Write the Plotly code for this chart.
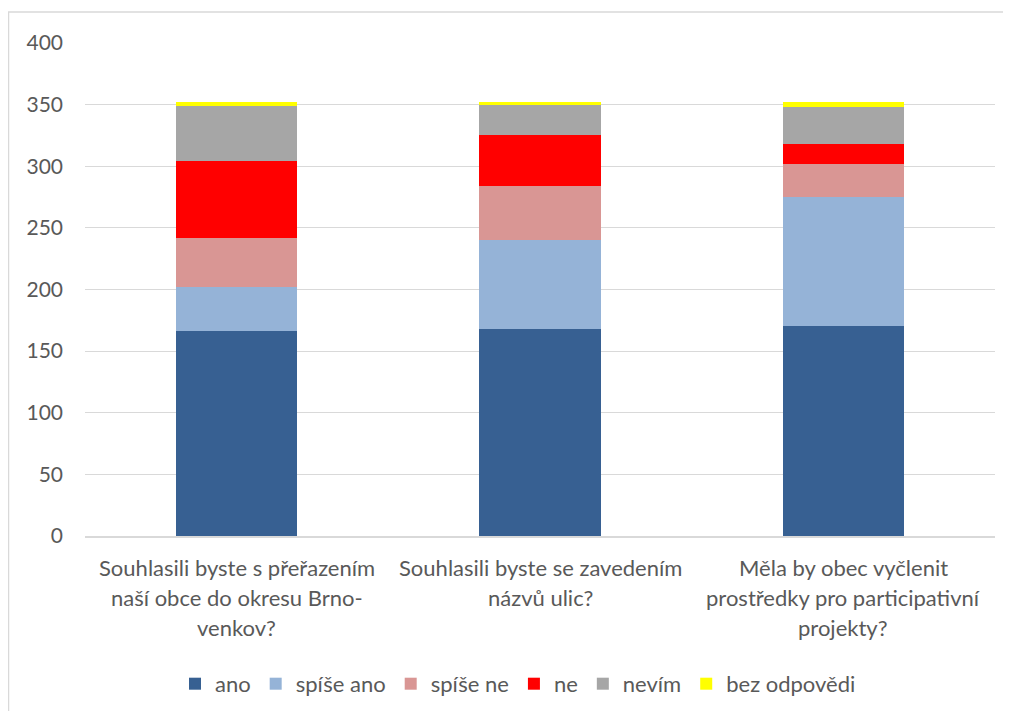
import plotly.graph_objects as go

categories = ["q1", "q2", "q3"]
category_lines = [
    ["Souhlasili byste s přeřazením", "naší obce do okresu Brno-", "venkov?"],
    ["Souhlasili byste se zavedením", "názvů ulic?"],
    ["Měla by obec vyčlenit", "prostředky pro participativní", "projekty?"],
]
series_names = ["ano", "spíše ano", "spíše ne", "ne", "nevím", "bez odpovědi"]
ano = [166, 168, 170]
spise_ano = [36, 72, 105]
spise_ne = [40, 44, 27]
ne = [62, 41, 16]
nevim = [45, 25, 30]
bez_odpovedi = [3, 2, 4]
series_values = [ano, spise_ano, spise_ne, ne, nevim, bez_odpovedi]
colors = ["#376092", "#95B3D7", "#D99694", "#FF0000", "#A6A6A6", "#FFFF00"]
y_ticks = [0, 50, 100, 150, 200, 250, 300, 350, 400]

FONT = "Lato"
TXT = "#595959"
L, R, T, B = 77, 24, 35, 183
PW, PH = 1011 - L - R, 711 - T - B

fig = go.Figure()
for name, vals, col in zip(series_names, series_values, colors):
    fig.add_trace(go.Bar(name=name, x=categories, y=vals, marker=dict(color=col, line=dict(width=0))))

annotations = []
for cat, lines in zip(categories, category_lines):
    for i, line in enumerate(lines):
        annotations.append(dict(
            x=cat, xref="x", y=0, yref="paper", yanchor="middle",
            yshift=-31 - 30 * i, text=line, showarrow=False,
            font=dict(family=FONT, size=22, color=TXT)))

fig.update_layout(
    width=1011, height=711,
    margin=dict(l=L, r=R, t=T, b=B),
    paper_bgcolor="white", plot_bgcolor="white",
    barmode="stack", bargap=0.6,
    font=dict(family=FONT, size=22, color=TXT),
    annotations=annotations,
    showlegend=True,
    legend=dict(orientation="h", x=(510 - L) / PW, xanchor="center", y=-0.3, yanchor="middle",
                font=dict(family=FONT, size=22, color=TXT), traceorder="normal",
                itemwidth=30),
    shapes=[dict(type="rect", xref="paper", yref="paper",
                 x0=(0.5 - L) / PW, x1=(1060 - L) / PW,
                 y0=-(B + 20) / PH, y1=(PH + T - 4) / PH,
                 line=dict(color="#D9D9D9", width=1.5), fillcolor="rgba(0,0,0,0)",
                 layer="below")],
)
fig.update_xaxes(showticklabels=False, showline=True, linecolor="#D9D9D9", linewidth=1.5,
                 ticks="", showgrid=False)
fig.update_yaxes(range=[0, 400], tickvals=y_ticks, showgrid=True, gridcolor="#D9D9D9",
                 gridwidth=1, zeroline=False, showline=False, ticks="",
                 ticklabelstandoff=21, tickfont=dict(family=FONT, size=21, color=TXT))

fig.write_html("out.html")
